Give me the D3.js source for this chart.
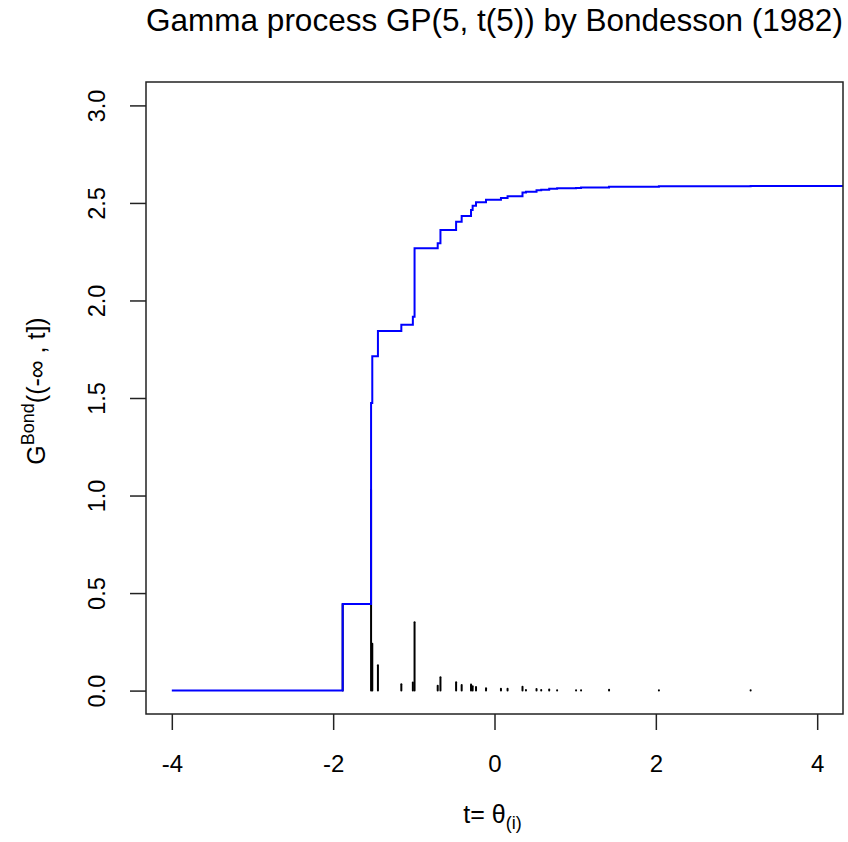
<!DOCTYPE html>
<html>
<head>
<meta charset="utf-8">
<script src="https://cdn.jsdelivr.net/npm/d3@7"></script>
<style>
  html, body { margin: 0; padding: 0; background: #fff; }
  svg { display: block; }
  text { font-family: "Liberation Sans", Arial, sans-serif; fill: #000; }
</style>
</head>
<body>
<svg id="chart" width="848" height="842"></svg>
<script>
// Ordered atoms theta_(i) of the simulated process and their jump weights
const theta = [-1.882, -1.530, -1.515, -1.445, -1.155, -1.012, -0.991, -0.704, -0.670,
               -0.476, -0.407, -0.291, -0.271, -0.229, -0.105, 0.080, 0.162, 0.347,
               0.390, 0.521, 0.579, 0.678, 0.776, 1.011, 1.073, 1.420, 2.038, 3.175];
const weight = [0.444, 1.030, 0.240, 0.130, 0.032, 0.041, 0.351, 0.025, 0.068,
                0.043, 0.029, 0.031, 0.022, 0.018, 0.012, 0.009, 0.009, 0.020,
                0.003, 0.008, 0.003, 0.005, 0.002, 0.002, 0.002, 0.004, 0.002, 0.002];
const xTicks = [-4, -2, 0, 2, 4];
const yTicks = [0, 0.5, 1, 1.5, 2, 2.5, 3];
const xStart = -4;

const W = 848, H = 842;
const margin = { top: 82, right: 5, bottom: 128, left: 146 };
const pw = W - margin.left - margin.right;
const ph = H - margin.top - margin.bottom;

const svg = d3.select("#chart");
const g = svg.append("g").attr("transform", `translate(${margin.left},${margin.top})`);

// R-style 4% padding around the data ranges
const x = d3.scaleLinear().domain([-4.32, 4.32]).range([0, pw]);
const y = d3.scaleLinear().domain([-0.12, 3.12]).range([ph, 0]);

g.append("clipPath").attr("id", "plotClip")
  .append("rect").attr("width", pw).attr("height", ph);

const plot = g.append("g").attr("clip-path", "url(#plotClip)");

// cumulative measure G((-inf, t])
const cum = d3.cumsum(weight);
const pts = [[xStart, 0]];
theta.forEach((t, i) => pts.push([t, cum[i]]));
pts.push([x.domain()[1], cum[cum.length - 1]]);

// jump sizes as vertical bars
plot.append("g").selectAll("line").data(theta).join("line")
  .attr("x1", d => x(d)).attr("x2", d => x(d))
  .attr("y1", y(0)).attr("y2", (d, i) => y(weight[i]))
  .attr("stroke", "#000").attr("stroke-width", 2).attr("stroke-linecap", "round");

// step function
plot.append("path")
  .datum(pts)
  .attr("d", d3.line().x(d => x(d[0])).y(d => y(d[1])).curve(d3.curveStepAfter))
  .attr("fill", "none").attr("stroke", "#0000FF").attr("stroke-width", 2);

// box
g.append("rect").attr("width", pw).attr("height", ph)
  .attr("fill", "none").attr("stroke", "#222").attr("stroke-width", 1.5);

// axes
const xAxis = g.append("g").attr("transform", `translate(0,${ph})`)
  .call(d3.axisBottom(x).tickValues(xTicks).tickSize(16).tickSizeOuter(0)
        .tickFormat(d => d < 0 ? "-" + Math.abs(d) : String(d)));
xAxis.select(".domain").remove();
xAxis.selectAll(".tick line").attr("stroke", "#222").attr("stroke-width", 1.5);
xAxis.selectAll(".tick text").attr("font-size", 24).attr("dy", null)
  .style("font-family", '"Liberation Sans", Arial, sans-serif').attr("y", 58);

const yAxis = g.append("g")
  .call(d3.axisLeft(y).tickValues(yTicks).tickSize(16).tickSizeOuter(0)
        .tickFormat(d3.format(".1f")));
yAxis.select(".domain").remove();
yAxis.selectAll(".tick line").attr("stroke", "#222").attr("stroke-width", 1.5);
yAxis.selectAll(".tick text")
  .attr("x", null).attr("dy", null)
  .attr("text-anchor", "middle")
  .attr("font-size", 23.5)
  .style("font-family", '"Liberation Sans", Arial, sans-serif')
  .attr("transform", "translate(-41,0) rotate(-90)");

// title
svg.append("text")
  .attr("x", margin.left + pw / 2).attr("y", 31)
  .attr("text-anchor", "middle").attr("font-size", 31.5)
  .text("Gamma process GP(5, t(5)) by Bondesson (1982)");

// x label: t= θ_(i)
const xl = svg.append("text")
  .attr("x", margin.left + pw / 2 - 2).attr("y", 823)
  .attr("text-anchor", "middle").attr("font-size", 25);
xl.append("tspan").text("t= θ");
xl.append("tspan").attr("font-size", 18).attr("dy", 6).text("(i)");

// y label: G^Bond((-∞ , t])
const yl = svg.append("text")
  .attr("transform", `translate(45,${margin.top + ph / 2 - 7}) rotate(-90)`)
  .attr("text-anchor", "middle").attr("font-size", 25);
yl.append("tspan").text("G");
yl.append("tspan").attr("font-size", 18).attr("dy", -11).text("Bond");
yl.append("tspan").attr("dy", 11).text("((-∞ , t])");
</script>
</body>
</html>
